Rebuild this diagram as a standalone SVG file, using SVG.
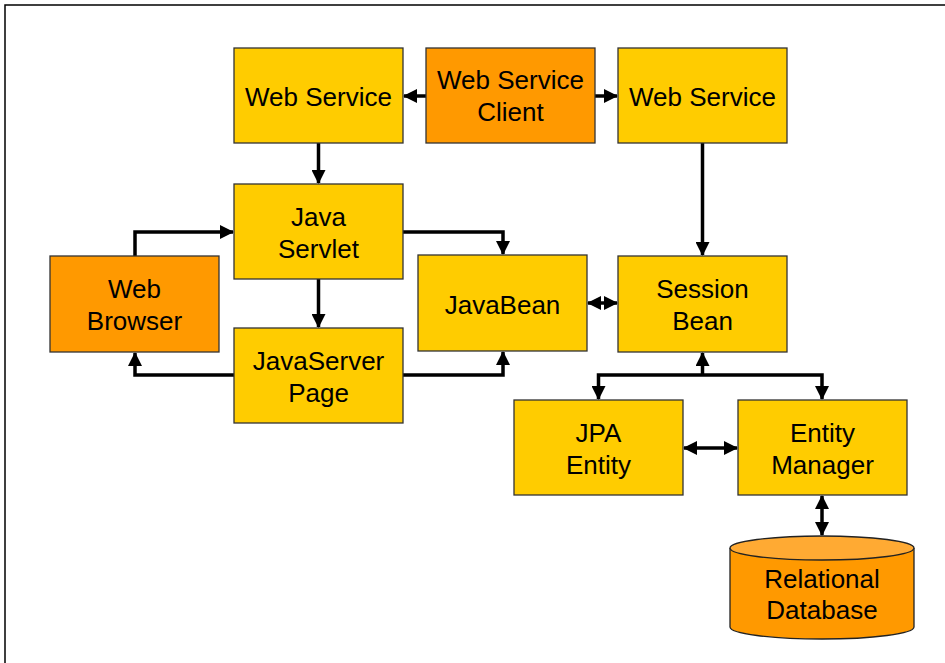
<svg xmlns="http://www.w3.org/2000/svg" width="945" height="663" viewBox="0 0 945 663">
<style>
.box{stroke:#333;stroke-width:1.3}
.y{fill:#FFCC00}
.o{fill:#FF9900}
.t{font-family:"Liberation Sans",Arial,sans-serif;font-size:26px;fill:#000;text-anchor:middle}
.c{fill:none;stroke:#000;stroke-width:3.5}
</style>
<defs>
<marker id="ah" viewBox="0 0 14 14" refX="13" refY="7" markerWidth="14" markerHeight="14" markerUnits="userSpaceOnUse" orient="auto-start-reverse">
<path d="M0,0 L14,7 L0,14 z" fill="#000"/>
</marker>
</defs>
<rect width="945" height="663" fill="#fff"/>
<path d="M5,663 V5 H945" fill="none" stroke="#000" stroke-width="1.5"/>
<g id="connectors">
<path class="c" d="M426,96 H404" marker-end="url(#ah)"/>
<path class="c" d="M595,96 H617" marker-end="url(#ah)"/>
<path class="c" d="M318.5,143 V183" marker-end="url(#ah)"/>
<path class="c" d="M702.5,143 V255" marker-end="url(#ah)"/>
<path class="c" d="M135,256 V232 H233" marker-end="url(#ah)"/>
<path class="c" d="M403,232 H503 V254" marker-end="url(#ah)"/>
<path class="c" d="M318.5,279 V327" marker-end="url(#ah)"/>
<path class="c" d="M234,375 H135 V353" marker-end="url(#ah)"/>
<path class="c" d="M403,375 H503 V352" marker-end="url(#ah)"/>
<path class="c" d="M588,303 H617" marker-start="url(#ah)" marker-end="url(#ah)"/>
<path class="c" d="M702.5,375 V353" marker-end="url(#ah)"/>
<path class="c" d="M598.5,399 V375 H822 V399" marker-start="url(#ah)" marker-end="url(#ah)"/>
<path class="c" d="M684,448 H737" marker-start="url(#ah)" marker-end="url(#ah)"/>
<path class="c" d="M822,496 V535" marker-start="url(#ah)" marker-end="url(#ah)"/>
</g>
<g id="ws-left">
<rect class="box y" x="234" y="48" width="169" height="95"/>
<text class="t" x="318.5" y="106">Web Service</text>
</g>
<g id="ws-client">
<rect class="box o" x="426" y="48" width="169" height="95"/>
<text class="t" x="510.5" y="89">Web Service</text>
<text class="t" x="510.5" y="121">Client</text>
</g>
<g id="ws-right">
<rect class="box y" x="618" y="48" width="169" height="95"/>
<text class="t" x="702.5" y="106">Web Service</text>
</g>
<g id="servlet">
<rect class="box y" x="234" y="184" width="169" height="95"/>
<text class="t" x="318.5" y="226">Java</text>
<text class="t" x="318.5" y="258">Servlet</text>
</g>
<g id="browser">
<rect class="box o" x="50" y="256" width="169" height="96"/>
<text class="t" x="134.5" y="298">Web</text>
<text class="t" x="134.5" y="330">Browser</text>
</g>
<g id="jsp">
<rect class="box y" x="234" y="328" width="169" height="95"/>
<text class="t" x="318.5" y="370">JavaServer</text>
<text class="t" x="318.5" y="402">Page</text>
</g>
<g id="javabean">
<rect class="box y" x="418" y="255" width="169" height="96"/>
<text class="t" x="502.5" y="314">JavaBean</text>
</g>
<g id="session">
<rect class="box y" x="618" y="256" width="169" height="96"/>
<text class="t" x="702.5" y="298">Session</text>
<text class="t" x="702.5" y="330">Bean</text>
</g>
<g id="jpa">
<rect class="box y" x="514" y="400" width="169" height="95"/>
<text class="t" x="598.5" y="442">JPA</text>
<text class="t" x="598.5" y="474">Entity</text>
</g>
<g id="em">
<rect class="box y" x="738" y="400" width="169" height="95"/>
<text class="t" x="822.5" y="442">Entity</text>
<text class="t" x="822.5" y="474">Manager</text>
</g>
<g id="db">
<path d="M730,548 V627 A92,12 0 0 0 914,627 V548" fill="#FF9900" stroke="#222" stroke-width="1.3"/>
<ellipse cx="822" cy="548" rx="92" ry="12" fill="#FFAA33" stroke="#222" stroke-width="1.3"/>
<text class="t" x="822" y="588">Relational</text>
<text class="t" x="822" y="619">Database</text>
</g>
</svg>
